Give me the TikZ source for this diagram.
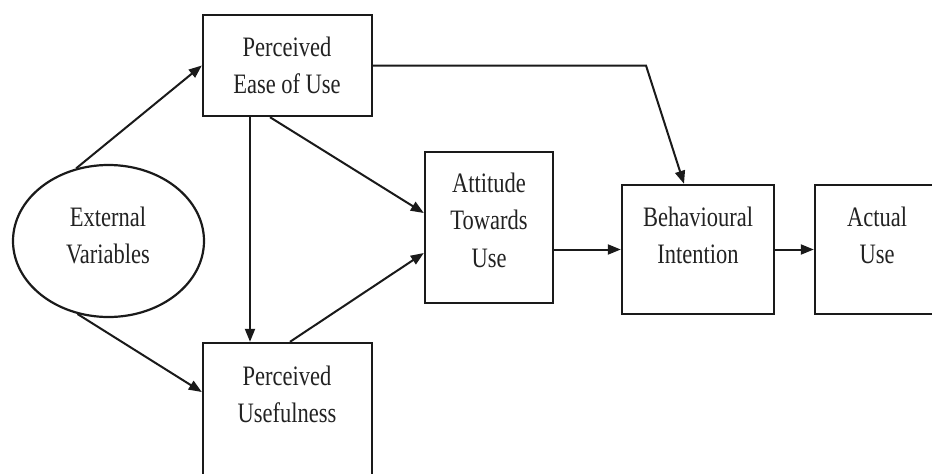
\documentclass[tikz,border=0pt]{standalone}
\usepackage{fontspec}
\setmainfont{Liberation Serif}
\usepackage{graphicx}
\usetikzlibrary{arrows.meta,shapes.geometric}
\definecolor{ink}{HTML}{1A1A1A}
\definecolor{txtc}{HTML}{222222}
\newcommand{\lbl}[1]{\scalebox{1}[1.25]{\begin{tabular}[t]{@{}c@{}}#1\end{tabular}}}
\tikzset{
  boxn/.style={draw=ink, line width=2.4pt, rectangle, inner sep=0pt},
  ovaln/.style={draw=ink, line width=2.2pt, ellipse, inner sep=0pt, minimum width=191pt, minimum height=152pt},
  txt/.style={anchor=base, inner sep=0pt, text=txtc, font=\fontsize{22.5}{30}\selectfont},
  arr/.style={draw=ink, line width=2pt, -{Triangle[length=13pt,width=10pt]}},
}
\begin{document}
\begin{tikzpicture}[x=1pt,y=-1pt]
\useasboundingbox (0,0) rectangle (932,474);
\fill[white] (0,0) rectangle (932,474);
\clip (0,0) rectangle (932,474);
% shapes
\node[ovaln] (ev) at (108.5,241) {};
\node[boxn, minimum width=169pt, minimum height=101pt] (peou) at (287.5,65.5) {};
\node[boxn, minimum width=169pt, minimum height=147pt] (pu) at (287.5,416.5) {};
\node[boxn, minimum width=128pt, minimum height=151pt] (atu) at (489,227.5) {};
\node[boxn, minimum width=152pt, minimum height=129pt] (bi) at (698,249.5) {};
\node[boxn, minimum width=135pt, minimum height=129pt] (au) at (882.5,249.5) {};
% texts
\node[txt] (evt) at (108,226) {\lbl{External\\Variables}};
\node[txt] (peout) at (287,56) {\lbl{Perceived\\Ease of Use}};
\node[txt] (put) at (287,385) {\lbl{Perceived\\Usefulness}};
\node[txt] (atut) at (489,192) {\lbl{Attitude\\Towards\\Use}};
\node[txt] (bit) at (698,226) {\lbl{Behavioural\\Intention}};
\node[txt] (aut) at (877,226) {\lbl{Actual\\Use}};
% connectors
\coordinate (bend) at (646,65.5);
\draw[arr] (ev.114) -- (peou.west);
\draw[arr] (ev.247) -- ([yshift=24.5pt]pu.west);
\draw[arr] ([xshift=-37.5pt]peou.south) -- ([xshift=-37.5pt]pu.north);
\draw[arr] ([xshift=-17.5pt]peou.south) -- ([yshift=14.5pt]atu.west);
\draw[arr] ([xshift=2.5pt]pu.north) -- ([yshift=-25.5pt]atu.west);
\draw[arr] (peou.east) -- (bend) -- ([xshift=-14pt]bi.north);
\draw[arr] (atu.east |- bi.west) -- (bi.west);
\draw[arr] (bi.east) -- (au.west);
\end{tikzpicture}
\end{document}
